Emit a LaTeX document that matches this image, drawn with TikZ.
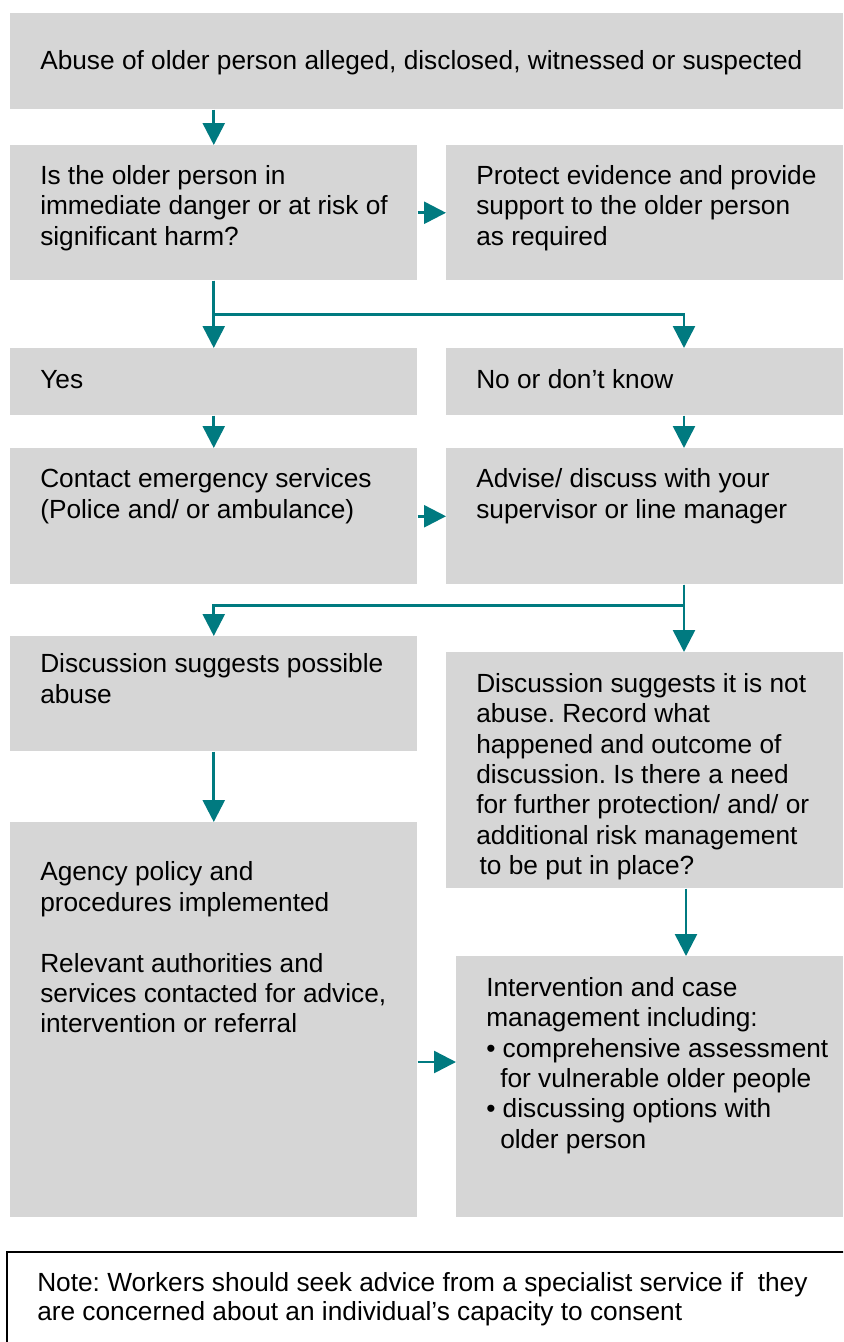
\documentclass[tikz,border=0pt]{standalone}
\usepackage{fontspec}
\setmainfont{Liberation Sans}
\usetikzlibrary{arrows.meta}
\usepackage{xcolor}
\definecolor{boxgray}{HTML}{D6D6D6}
\definecolor{flowteal}{HTML}{007A80}
\newcommand{\pxu}{0.75pt}

\begin{document}
\begin{tikzpicture}[x=0.75pt,y=-0.75pt,
    box/.style={fill=boxgray,inner sep=0pt,anchor=north west},
    txt/.style={anchor=north west,inner sep=0pt,align=left,
      font=\fontsize{19.7pt}{22.8pt}\selectfont\frenchspacing,execute at begin node=\strut},
    flow/.style={flowteal,line width=1.95pt,-{Triangle[width=16.5pt,length=16.5pt]}}]
    \clip (0,0) rectangle (843,1342);

    % boxes
    \node[box,minimum width=833*\pxu,minimum height=96*\pxu] (alleged) at (10,13) {};
    \node[box,minimum width=407*\pxu,minimum height=135*\pxu] (danger) at (10,145) {};
    \node[box,minimum width=397*\pxu,minimum height=135*\pxu] (protect) at (446,145) {};
    \node[box,minimum width=407*\pxu,minimum height=67*\pxu] (yes) at (10,348) {};
    \node[box,minimum width=397*\pxu,minimum height=67*\pxu] (dontknow) at (446,348) {};
    \node[box,minimum width=407*\pxu,minimum height=136*\pxu] (emergency) at (10,448) {};
    \node[box,minimum width=397*\pxu,minimum height=136*\pxu] (advise) at (446,448) {};
    \node[box,minimum width=407*\pxu,minimum height=115*\pxu] (possible) at (10,636) {};
    \node[box,minimum width=397*\pxu,minimum height=236*\pxu] (notabuse) at (446,652) {};
    \node[box,minimum width=407*\pxu,minimum height=395*\pxu] (agency) at (10,822) {};
    \node[box,minimum width=387*\pxu,minimum height=261*\pxu] (intervention) at (456,956) {};
    \node[box,fill=none,draw=black,line width=1.5pt,minimum width=850*\pxu,minimum height=120*\pxu] (note) at (6,1251) {};

    % texts
    \node[txt] (alleged-t) at ([shift={(30,35)}]alleged.north west) {Abuse of older person alleged, disclosed, witnessed or suspected};
    \node[txt] (danger-t) at ([shift={(30,20)}]danger.north west) {Is the older person in\\immediate danger or at risk of\\significant harm?};
    \node[txt] (protect-t) at ([shift={(30,20)}]protect.north west) {Protect evidence and provide\\support to the older person\\as required};
    \node[txt] (yes-t) at ([shift={(30,18.5)}]yes.north west) {Yes};
    \node[txt] (dontknow-t) at ([shift={(30,18.5)}]dontknow.north west) {No or don’t know};
    \node[txt] (emergency-t) at ([shift={(30,20.5)}]emergency.north west) {Contact emergency services\\(Police and/ or ambulance)};
    \node[txt] (advise-t) at ([shift={(30,20.5)}]advise.north west) {Advise/ discuss with your\\supervisor or line manager};
    \node[txt] (possible-t) at ([shift={(30,17.5)}]possible.north west) {Discussion suggests possible\\abuse};
    \node[txt] (notabuse-t) at ([shift={(30,21)}]notabuse.north west) {Discussion suggests it is not\\abuse. Record what\\happened and outcome of\\discussion. Is there a need\\for further protection/ and/ or\\additional risk management\\\hspace*{2.5pt}to be put in place?};
    \node[txt] (agency-t) at ([shift={(30,39.5)}]agency.north west) {Agency policy and\\procedures implemented\\[22.8pt]Relevant authorities and\\services contacted for advice,\\intervention or referral};
    \node[txt] (intervention-t) at ([shift={(30,21)}]intervention.north west) {Intervention and case\\management including:\\• comprehensive assessment\\\hspace*{10.5pt}for vulnerable older people\\• discussing options with\\\hspace*{10.5pt}older person};
    \node[txt] (note-t) at ([shift={(31,21)}]note.north west) {Note: Workers should seek advice from a specialist service if\ \ they\\[-0.7pt]are concerned about an individual’s capacity to consent};

    % connectors
    \coordinate (rcol) at (684,0);
    \coordinate (rcol2) at (686,0);
    \coordinate (rrow) at (0,1062);
    \draw[flow] (alleged.south -| danger.north) -- (danger.north);
    \draw[flow] (danger.east) -- (protect.west);
    \draw[flow] (danger.south) -- (yes.north);
    \draw[flow] (danger.south) -- ++(0,34) -| (dontknow.north -| rcol);
    \draw[flow] (yes.south) -- (emergency.north);
    \draw[flow] (dontknow.south -| rcol) -- (advise.north -| rcol);
    \draw[flow] (emergency.east) -- (advise.west);
    \draw[flow] (advise.south -| rcol) -- (notabuse.north -| rcol);
    \draw[flow] (advise.south -| rcol) -- ++(0,21) -| (possible.north);
    \draw[flow] (possible.south) -- (agency.north);
    \draw[flow] (notabuse.south -| rcol2) -- (intervention.north -| rcol2);
    \draw[flow] (agency.east |- rrow) -- (intervention.west |- rrow);
\end{tikzpicture}
\end{document}
